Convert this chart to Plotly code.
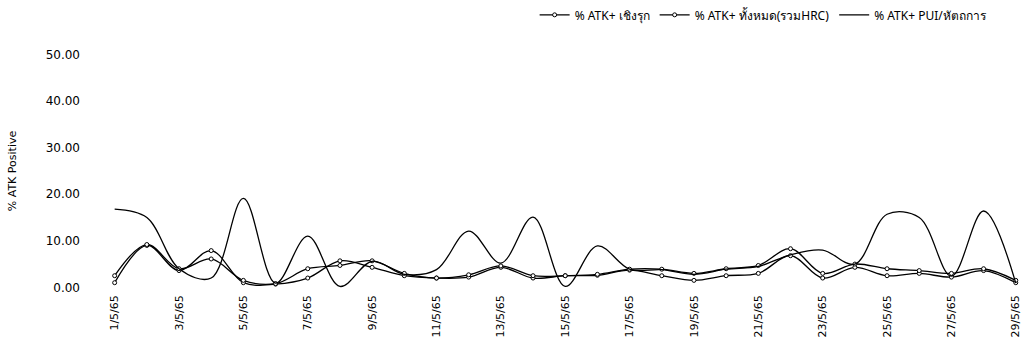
import plotly.graph_objects as go

dates = [f"{d}/5/65" for d in range(1, 30)]
tick_labels = dates[::2]

pui = [16.8, 15.0, 4.0, 2.0, 19.1, 0.9, 11.0, 0.2, 5.6, 2.8, 3.8, 12.1, 5.2, 15.1, 0.2,
       8.9, 3.9, 3.8, 2.8, 3.9, 4.5, 7.0, 8.0, 5.0, 15.7, 15.0, 2.4, 16.4, 0.9]
total = [2.5, 9.2, 4.0, 6.1, 1.5, 0.8, 4.0, 4.7, 5.7, 3.0, 2.0, 2.7, 4.6, 2.5, 2.5,
         2.8, 3.9, 3.9, 3.0, 4.0, 4.7, 8.3, 3.0, 5.0, 4.0, 3.6, 3.0, 4.0, 1.5]
active = [1.0, 9.0, 3.6, 7.9, 1.0, 0.7, 2.0, 5.7, 4.3, 2.5, 2.0, 2.2, 4.3, 2.0, 2.5,
          2.6, 3.7, 2.5, 1.5, 2.5, 3.0, 6.8, 2.0, 4.3, 2.5, 3.0, 2.2, 3.6, 1.0]

names = ["% ATK+ เชิงรุก", "% ATK+ ทั้งหมด(รวมHRC)", "% ATK+ PUI/หัตถการ"]
series = [active, total, pui]

fig = go.Figure()
for i, (nm, vals) in enumerate(zip(names, series)):
    fig.add_trace(go.Scatter(
        x=dates, y=vals, name=nm, mode="lines+markers" if i < 2 else "lines",
        line=dict(color="black", width=1.3, shape="spline", smoothing=1.0),
        marker=dict(symbol="circle", size=4, color="white",
                    line=dict(color="black", width=1)),
    ))

fig.update_layout(
    width=1025, height=345,
    margin=dict(l=105, r=6, t=50, b=53, autoexpand=False),
    paper_bgcolor="white", plot_bgcolor="white",
    font=dict(family="DejaVu Sans, Noto Sans", color="black", size=12),
    showlegend=True,
    legend=dict(orientation="h", x=0.745, xanchor="center", xref="container",
                y=0.957, yanchor="middle", yref="container",
                font=dict(size=12, family="Noto Sans, DejaVu Sans"),
                itemwidth=30, bgcolor="rgba(0,0,0,0)"),
    xaxis=dict(type="category", range=[-0.3, 28.1], tickangle=-90,
               tickmode="array", tickvals=tick_labels, ticktext=tick_labels,
               showgrid=False, zeroline=False, showline=False, ticks="",
               tickfont=dict(size=11)),
    yaxis=dict(range=[-1, 51], tickvals=[0, 10, 20, 30, 40, 50],
               tickformat=".2f", showgrid=False, zeroline=False, showline=False,
               ticks="", ticklabelstandoff=24,
               title=dict(text="% ATK Positive", font=dict(size=11), standoff=26),
               tickfont=dict(size=12)),
)

fig.write_html("out.html")
